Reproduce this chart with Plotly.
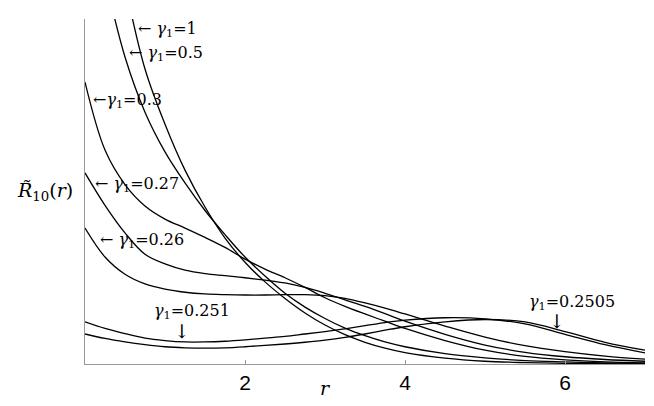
import plotly.graph_objects as go

# radial grid
r_full = [0, 0.25, 0.5, 0.75, 1, 1.25, 1.5, 1.75, 2, 2.25, 2.5, 2.75, 3, 3.25, 3.5, 3.75, 4, 4.5, 5, 5.5, 6, 6.5, 7]
r_steep = r_full[1:]

# curve values
g_1 = [1.40, 1.10, 0.855, 0.695, 0.562, 0.455, 0.365, 0.295, 0.238, 0.19, 0.148, 0.113, 0.085, 0.063, 0.046, 0.033, 0.017, 0.008, 0.004, 0.002, 0.001, 0.0005]
g_05 = [1.12, 0.89, 0.73, 0.615, 0.525, 0.445, 0.375, 0.31, 0.255, 0.205, 0.165, 0.132, 0.104, 0.082, 0.064, 0.05, 0.03, 0.018, 0.01, 0.006, 0.003, 0.002]
g_03 = [0.817, 0.62, 0.52, 0.458, 0.42, 0.394, 0.367, 0.338, 0.304, 0.275, 0.25, 0.222, 0.192, 0.167, 0.145, 0.124, 0.103, 0.068, 0.04, 0.022, 0.012, 0.006, 0.003]
g_027 = [0.554, 0.46, 0.38, 0.318, 0.29, 0.272, 0.262, 0.256, 0.25, 0.243, 0.235, 0.222, 0.205, 0.186, 0.167, 0.146, 0.124, 0.086, 0.055, 0.034, 0.021, 0.013, 0.008]
g_026 = [0.394, 0.31, 0.26, 0.232, 0.217, 0.208, 0.203, 0.201, 0.2, 0.2, 0.201, 0.201, 0.198, 0.19, 0.177, 0.162, 0.145, 0.11, 0.078, 0.053, 0.036, 0.023, 0.014]
g_0251 = [0.122, 0.103, 0.088, 0.075, 0.068, 0.064, 0.064, 0.066, 0.07, 0.075, 0.08, 0.087, 0.094, 0.102, 0.111, 0.12, 0.127, 0.134, 0.131, 0.116, 0.086, 0.056, 0.032]
g_02505 = [0.087, 0.074, 0.064, 0.056, 0.05, 0.047, 0.046, 0.047, 0.05, 0.054, 0.058, 0.063, 0.069, 0.077, 0.087, 0.098, 0.108, 0.122, 0.129, 0.122, 0.094, 0.063, 0.04]

series = [
    (r_steep, g_1),
    (r_steep, g_05),
    (r_full, g_03),
    (r_full, g_027),
    (r_full, g_026),
    (r_full, g_0251),
    (r_full, g_02505),
]

x_ticks = [2, 4, 6]
y_ticks = [1]

fig = go.Figure()
for xs, ys in series:
    fig.add_trace(go.Scatter(x=xs, y=ys, mode="lines",
                             line=dict(color="black", width=1.3, shape="spline", smoothing=1.0),
                             showlegend=False, hoverinfo="skip"))

lab_font = dict(family="DejaVu Serif", size=16, color="black")
arrow_font = dict(family="DejaVu Serif", size=19, color="black")
labels = [
    (0.64, 0.971, "left", "← <i>γ</i><sub>1</sub>=1", lab_font),
    (0.525, 0.901, "left", "← <i>γ</i><sub>1</sub>=0.5", lab_font),
    (0.075, 0.765, "left", "←<i>γ</i><sub>1</sub>=0.3", lab_font),
    (0.10, 0.519, "left", "← <i>γ</i><sub>1</sub>=0.27", lab_font),
    (0.16, 0.359, "left", "← <i>γ</i><sub>1</sub>=0.26", lab_font),
    (1.34, 0.151, "center", "<i>γ</i><sub>1</sub>=0.251", lab_font),
    (1.21, 0.095, "center", "↓", arrow_font),
    (6.09, 0.177, "center", "<i>γ</i><sub>1</sub>=0.2505", lab_font),
    (5.90, 0.124, "center", "↓", arrow_font),
]
for x, y, xa, t, f in labels:
    fig.add_annotation(x=x, y=y, xref="x", yref="y", text=t, showarrow=False,
                       xanchor=xa, yanchor="middle", font=f)

# axis titles as annotations
fig.add_annotation(x=(45 - 85) / 560, y=(364 - 192) / 345, xref="paper", yref="paper",
                   text="<i>R̃</i><sub>10</sub>(<i>r</i>)", showarrow=False,
                   xanchor="center", yanchor="middle",
                   font=dict(family="DejaVu Serif", size=19, color="black"))
fig.add_annotation(x=(325 - 85) / 560, y=-(388 - 364) / 345, xref="paper", yref="paper",
                   text="<i>r</i>", showarrow=False, xanchor="center", yanchor="middle",
                   font=dict(family="DejaVu Serif", size=19, color="black"))

axis_common = dict(showgrid=False, zeroline=False, showline=True, linecolor="#999999",
                   linewidth=1, ticks="inside", ticklen=4, tickcolor="#999999",
                   tickfont=dict(family="Liberation Sans", size=21, color="black"))
fig.update_xaxes(range=[0, 7], tickvals=x_ticks, ticktext=[str(v) for v in x_ticks], **axis_common)
fig.update_yaxes(range=[0, 1], tickvals=y_ticks, ticktext=[str(v) for v in y_ticks], **axis_common)

# page body adds an 8px offset, so margins compensate
fig.update_layout(width=646, height=398, margin=dict(l=77, r=9, t=11, b=42),
                  plot_bgcolor="white", paper_bgcolor="white")

fig.write_html("out.html")
